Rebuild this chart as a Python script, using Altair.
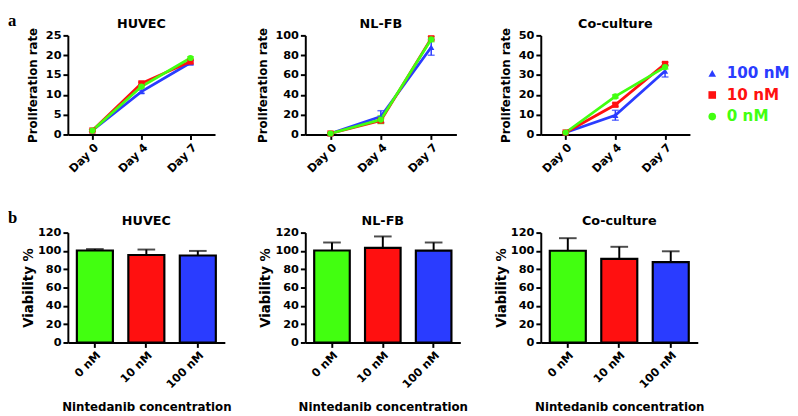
import altair as alt
import pandas as pd

FONT = "DejaVu Sans"

# ---------------- data: panel a (proliferation) ----------------
DAYS = ["Day 0", "Day 4", "Day 7"]
SERIES = ["100 nM", "10 nM", "0 nM"]
SERIES_COLORS = ["#2a3cff", "#ff1010", "#42ff10"]
SERIES_SHAPES = ["triangle-up", "square", "circle"]

HUVEC_MEAN = {"100 nM": [1.0, 10.8, 18.1], "10 nM": [1.0, 12.9, 18.4], "0 nM": [1.0, 12.1, 19.3]}
HUVEC_ERR = {"100 nM": [0.2, 0.4, 0.5], "10 nM": [0.2, 0.3, 0.4], "0 nM": [0.2, 0.3, 0.3]}
NLFB_MEAN = {"100 nM": [1.0, 18.0, 88.0], "10 nM": [1.0, 14.0, 97.0], "0 nM": [1.0, 15.0, 96.0]}
NLFB_ERR = {"100 nM": [0.5, 6.0, 8.0], "10 nM": [0.5, 2.0, 2.0], "0 nM": [0.5, 4.0, 2.5]}
CO_MEAN = {"100 nM": [1.0, 9.7, 32.0], "10 nM": [1.0, 15.0, 35.6], "0 nM": [1.0, 19.2, 34.0]}
CO_ERR = {"100 nM": [0.3, 2.5, 3.0], "10 nM": [0.3, 0.8, 0.8], "0 nM": [0.3, 0.8, 1.0]}

# ---------------- data: panel b (viability) ----------------
CONCS = ["0 nM", "10 nM", "100 nM"]
BAR_COLORS = ["#42ff10", "#ff1010", "#2a3cff"]
VIAB_HUVEC = [100.5, 95.5, 95.0]
VIAB_HUVEC_ERR = [1.5, 6.0, 5.0]
VIAB_NLFB = [100.5, 103.3, 100.4]
VIAB_NLFB_ERR = [8.7, 12.5, 8.8]
VIAB_CO = [100.2, 91.3, 87.8]
VIAB_CO_ERR = [13.7, 13.2, 11.8]

PANEL_TAGS = ["a", "b"]

label_color_expr = " : ".join(
    [f"datum.value == '{s}' ? '{c}'" for s, c in zip(SERIES[:-1], SERIES_COLORS[:-1])]
    + [f"'{SERIES_COLORS[-1]}'"]
)


def tag_layer(tag):
    return (
        alt.Chart(pd.DataFrame({"tag": [tag]}))
        .mark_text(font="Liberation Serif", fontSize=17, fontWeight="bold",
                   align="left", baseline="alphabetic", color="black")
        .encode(x=alt.value(-61), y=alt.value(-10), text="tag:N")
    )


def make_title(text, offset):
    return alt.Title(text, frame="group", offset=offset, font=FONT, fontSize=13,
                     fontWeight="bold", anchor="middle", color="black")


def line_panel(title, means, errs, ymax, ystep, width, with_legend, tag=None):
    rows = []
    for s in SERIES:
        for d, m, e in zip(DAYS, means[s], errs[s]):
            rows.append({"day": d, "series": s, "rate": m, "lo": m - e, "hi": m + e})
    df = pd.DataFrame(rows)

    xscale = alt.Scale(type="point", padding=0.5)
    xaxis = alt.Axis(labelAngle=-45, title=None, labelPadding=2)
    yscale = alt.Scale(domain=[0, ymax], nice=False)
    yaxis = alt.Axis(values=list(range(0, ymax + 1, ystep)), title="Proliferation rate",
                     titlePadding=6, titleFontSize=12)

    def X():
        return alt.X("day:N", sort=DAYS, scale=xscale, axis=xaxis)

    def Y(field):
        return alt.Y(f"{field}:Q", scale=yscale, axis=yaxis)

    layers = []
    for s, col in zip(SERIES, SERIES_COLORS):
        sub = alt.Chart(df).transform_filter(alt.datum.series == s)
        layers.append(sub.mark_line(color=col, strokeWidth=2.8).encode(x=X(), y=Y("rate")))
        layers.append(sub.mark_rule(color=col, strokeWidth=1.5).encode(x=X(), y=Y("lo"), y2="hi:Q"))
        layers.append(sub.mark_tick(color=col, size=7, thickness=1.5).encode(x=X(), y=Y("lo")))
        layers.append(sub.mark_tick(color=col, size=7, thickness=1.5).encode(x=X(), y=Y("hi")))

    if with_legend:
        leg = alt.Legend(orient="none", legendX=167, legendY=31, title=None,
                         labelFont=FONT, labelFontSize=15.5, labelFontWeight="bold",
                         labelColor=alt.ExprRef(expr=label_color_expr),
                         symbolSize=60, symbolStrokeWidth=0, rowPadding=5,
                         labelOffset=7, padding=0)
    else:
        leg = None
    pts = alt.Chart(df).mark_point(filled=True, size=40, opacity=1).encode(
        x=X(), y=Y("rate"),
        color=alt.Color("series:N", scale=alt.Scale(domain=SERIES, range=SERIES_COLORS), legend=leg),
        shape=alt.Shape("series:N", scale=alt.Scale(domain=SERIES, range=SERIES_SHAPES), legend=leg),
    )
    layers.append(pts)
    off = -4
    if tag:
        layers.append(tag_layer(tag))
        off = -19
    return alt.layer(*layers).properties(width=width, height=101, title=make_title(title, off))


def bar_panel(title, vals, errs, width, tag=None):
    df = pd.DataFrame({"conc": CONCS, "via": vals,
                       "hi": [v + e for v, e in zip(vals, errs)], "fill": BAR_COLORS})
    xscale = alt.Scale(paddingInner=0.3, paddingOuter=0.175)
    xaxis = alt.Axis(labelAngle=-45, title="Nintedanib concentration", titlePadding=11,
                     labelPadding=2)
    yscale = alt.Scale(domain=[0, 120], nice=False)
    yaxis = alt.Axis(values=list(range(0, 121, 20)), title="Viability %", titlePadding=2,
                     titleFontSize=13.5)

    def X():
        return alt.X("conc:N", sort=CONCS, scale=xscale, axis=xaxis)

    def Y(field):
        return alt.Y(f"{field}:Q", scale=yscale, axis=yaxis)

    base = alt.Chart(df)
    rule = base.mark_rule(color="black", strokeWidth=2).encode(x=X(), y=Y("via"), y2="hi:Q")
    cap = base.mark_tick(color="black", size=18, thickness=2).encode(x=X(), y=Y("hi"))
    bars = base.mark_bar(stroke="black", strokeWidth=2.2).encode(
        x=X(), y=Y("via"), fill=alt.Fill("fill:N", scale=None))
    layers = [rule, cap, bars]
    off = -1
    if tag:
        layers.append(tag_layer(tag))
        off = -19
    return alt.layer(*layers).properties(width=width, height=112, title=make_title(title, off))


p1 = line_panel("HUVEC", HUVEC_MEAN, HUVEC_ERR, 25, 5, 150, False, PANEL_TAGS[0])
p2 = line_panel("NL-FB", NLFB_MEAN, NLFB_ERR, 100, 20, 154, False)
p3 = line_panel("Co-culture", CO_MEAN, CO_ERR, 50, 10, 152, True)
b1 = bar_panel("HUVEC", VIAB_HUVEC, VIAB_HUVEC_ERR, 160, PANEL_TAGS[1])
b2 = bar_panel("NL-FB", VIAB_NLFB, VIAB_NLFB_ERR, 158)
b3 = bar_panel("Co-culture", VIAB_CO, VIAB_CO_ERR, 160)

chart = (
    alt.concat(p1, p2, p3, b1, b2, b3, columns=3,
               spacing={"row": 100, "column": 82}, bounds="flush", align="each")
    .resolve_legend(color="independent", shape="independent")
    .properties(padding={"left": 0, "top": 0, "right": 0, "bottom": 0})
    .configure_view(stroke=None)
    .configure_axis(domainColor="black", domainWidth=2, tickColor="black", tickWidth=2,
                    tickSize=5, labelFont=FONT, labelFontSize=11.5, labelFontWeight="bold",
                    labelColor="black", titleFont=FONT, titleFontSize=12,
                    titleFontWeight="bold", titleColor="black", grid=False)
)

chart.save("out.html", embed_options={"renderer": "svg", "actions": False})
